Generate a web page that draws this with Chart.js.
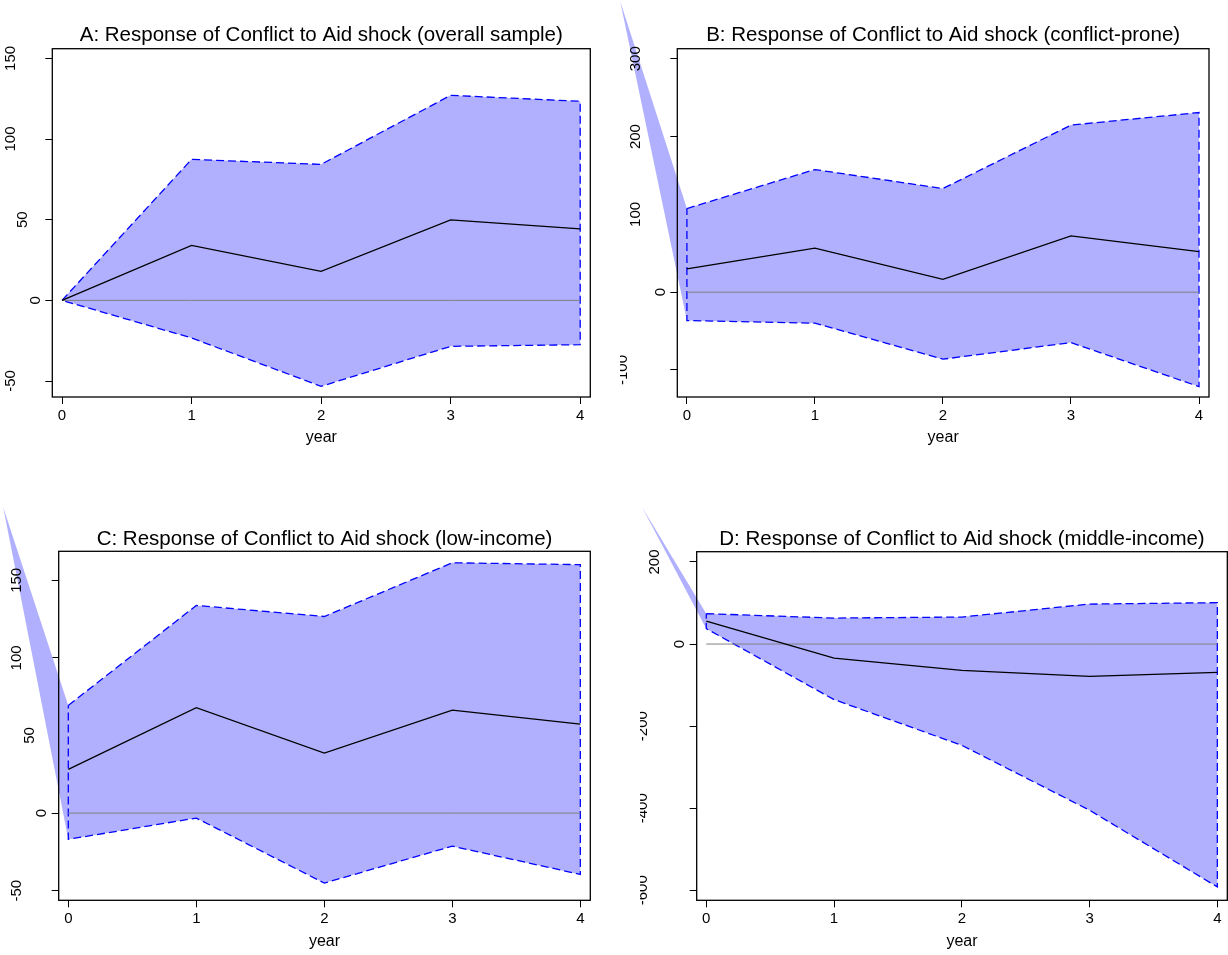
<!DOCTYPE html>
<html>
<head>
<meta charset="utf-8">
<title>Response of Conflict to Aid shock</title>
<script src="https://cdn.jsdelivr.net/npm/chart.js@4.4.1/dist/chart.umd.min.js"></script>
<style>
  html, body { margin: 0; padding: 0; background: #ffffff; }
  #wrap { position: relative; width: 1228px; height: 955px; overflow: hidden; background: #ffffff; }
  #wrap canvas { position: absolute; }
</style>
</head>
<body>
<div id="wrap">
  <canvas id="panelA" width="614" height="477" style="left:0px;top:0px"></canvas>
  <canvas id="panelB" width="614" height="477" style="left:614px;top:0px"></canvas>
  <canvas id="panelC" width="614" height="478" style="left:0px;top:477px"></canvas>
  <canvas id="panelD" width="614" height="478" style="left:614px;top:477px"></canvas>
</div>
<script>
// ---- data -------------------------------------------------------------
const years = [0, 1, 2, 3, 4];
const zeroLine = [0, 0, 0, 0, 0];
const xLabel = 'year';

// A: overall sample
const titleA = 'A: Response of Conflict to Aid shock (overall sample)';
const midA   = [0, 34.1, 18.0, 49.9, 44.3];
const upperA = [0, 87.4, 84.3, 127.1, 123.4];
const lowerA = [0, -23.3, -53.3, -28.5, -27.5];
const yTicksA = [-50, 0, 50, 100, 150];
const yRangeA = [-59.9, 156];
const apexA = null;

// B: conflict-prone
const titleB = 'B: Response of Conflict to Aid shock (conflict-prone)';
const midB   = [30.0, 56.6, 16.5, 72.4, 52.2];
const upperB = [107.5, 157.6, 133.2, 214.7, 230.9];
const lowerB = [-36.5, -39.8, -86.1, -64.8, -121.3];
const yTicksB = [-100, 0, 100, 200, 300];
const yRangeB = [-134.7, 312.9];
const apexB = [-0.521, 374];

// C: low-income
const titleC = 'C: Response of Conflict to Aid shock (low-income)';
const midC   = [28.2, 67.9, 38.7, 66.4, 57.3];
const upperC = [69.4, 133.8, 126.7, 161.3, 160.1];
const lowerC = [-16.9, -3.2, -45.1, -21.3, -39.5];
const yTicksC = [-50, 0, 50, 100, 150];
const yRangeC = [-56.2, 168.7];
const apexC = [-0.508, 197];

// D: middle-income
const titleD = 'D: Response of Conflict to Aid shock (middle-income)';
const midD   = [56, -34.1, -64, -78.7, -68.9];
const upperD = [74, 63.3, 65.8, 97.4, 100.8];
const lowerD = [37.5, -135.4, -246.7, -405, -591.8];
const yTicksD = [-600, -400, -200, 0, 200];
const yRangeD = [-624.4, 225];
const apexD = [-0.503, 334];

const xRange = [-0.075, 4.078];

// ---- styling ----------------------------------------------------------
const FONT = "'Liberation Sans', Arial, Helvetica, sans-serif";
const BAND_FILL = 'rgb(176,176,255)';
const BAND_EDGE = '#0000ff';

// Draws the frame, the rotated y labels and the shaded lead-in of the band.
const framePlugin = {
  id: 'frame',
  beforeDatasetsDraw(chart, args, opts) {
    if (!opts.apex) return;
    const {ctx, scales: {x, y}} = chart;
    ctx.save();
    ctx.beginPath();
    ctx.moveTo(x.getPixelForValue(opts.apex[0]), y.getPixelForValue(opts.apex[1]));
    ctx.lineTo(x.getPixelForValue(years[0]), y.getPixelForValue(opts.upper[0]));
    ctx.lineTo(x.getPixelForValue(years[0]), y.getPixelForValue(opts.lower[0]));
    ctx.closePath();
    ctx.fillStyle = BAND_FILL;
    ctx.fill();
    ctx.restore();
  },
  afterDatasetsDraw(chart) {
    const {ctx, chartArea: a} = chart;
    ctx.save();
    ctx.strokeStyle = '#000';
    ctx.lineWidth = 1.3;
    ctx.strokeRect(a.left, a.top, a.right - a.left, a.bottom - a.top);
    ctx.restore();
  },
  afterDraw(chart, args, opts) {
    const {ctx, chartArea: a, scales: {y}} = chart;
    ctx.save();
    if (opts.labelClip != null) {
      ctx.beginPath();
      ctx.rect(opts.labelClip, 0, chart.width, chart.height);
      ctx.clip();
    }
    ctx.fillStyle = '#000';
    ctx.font = '15px ' + FONT;
    ctx.textAlign = 'center';
    ctx.textBaseline = 'alphabetic';
    opts.ticks.forEach(v => {
      const s = String(v);
      const xr = a.left - 12.5 - (s.length - 1) * 12.5;
      const py = y.getPixelForValue(v);
      ctx.save();
      ctx.translate(xr, py);
      ctx.rotate(-Math.PI / 2);
      ctx.fillText(s, 0, 0);
      ctx.restore();
    });
    ctx.restore();
  }
};

function points(xs, ys) {
  return xs.map((x, i) => ({x: x, y: ys[i]}));
}

function makePanel(id, p) {
  const canvas = document.getElementById(id);
  const W = canvas.width, H = canvas.height;
  const band = points(years, p.upper)
    .concat(points(years, p.lower).reverse())
    .concat([{x: years[0], y: p.upper[0]}]);
  const lh = 20.5 * 1.2;

  return new Chart(canvas, {
    type: 'scatter',
    data: {
      datasets: [
        { data: points(years, p.mid), showLine: true, borderColor: '#000000',
          borderWidth: 1.3, pointRadius: 0, fill: false, tension: 0 },
        { data: points(years, zeroLine), showLine: true, borderColor: '#808080',
          borderWidth: 1, pointRadius: 0, fill: false, tension: 0 },
        { data: band, showLine: true, borderColor: BAND_EDGE, borderWidth: 1.3,
          borderDash: [8, 4], pointRadius: 0, fill: 'shape',
          backgroundColor: BAND_FILL, tension: 0 }
      ]
    },
    options: {
      responsive: false,
      animation: false,
      devicePixelRatio: 1,
      events: [],
      layout: { padding: { left: 0, right: W - p.box.right, top: 0, bottom: 0 } },
      scales: {
        x: {
          type: 'linear', position: 'bottom', min: xRange[0], max: xRange[1],
          afterBuildTicks: s => { s.ticks = years.map(v => ({value: v})); },
          afterFit: s => { s.height = H - p.box.bottom; },
          grid: { drawOnChartArea: false, drawTicks: true, tickLength: 7, color: '#000', lineWidth: 1 },
          border: { display: false },
          ticks: { font: { family: FONT, size: 15 }, color: '#000', padding: 2.5,
                   maxRotation: 0, autoSkip: false, callback: v => String(v) },
          title: { display: true, text: xLabel, color: '#000',
                   font: { family: FONT, size: 16 },
                   padding: { top: 0, bottom: H - p.box.bottom - 50.4 } }
        },
        y: {
          type: 'linear', position: 'left', min: p.yRange[0], max: p.yRange[1],
          afterBuildTicks: s => { s.ticks = p.yTicks.map(v => ({value: v})); },
          afterFit: s => { s.width = p.box.left; },
          grid: { drawOnChartArea: false, drawTicks: true, tickLength: 7, color: '#000', lineWidth: 1 },
          border: { display: false },
          ticks: { display: false }
        }
      },
      plugins: {
        legend: { display: false },
        tooltip: { enabled: false },
        title: {
          display: true, text: p.title, fullSize: false, color: '#000',
          font: { family: FONT, size: 20.5, weight: 'normal', lineHeight: 1.2 },
          padding: { top: p.titleMid - lh / 2, bottom: p.box.top - p.titleMid - lh / 2 }
        },
        frame: { ticks: p.yTicks, apex: p.apex, upper: p.upper, lower: p.lower,
                 labelClip: p.labelClip }
      }
    },
    plugins: [framePlugin]
  });
}

makePanel('panelA', { title: titleA, mid: midA, upper: upperA, lower: lowerA,
  yTicks: yTicksA, yRange: yRangeA, apex: apexA, labelClip: null, titleMid: 35.6,
  box: { left: 52.3, top: 48.7, right: 590.3, bottom: 397 } });
makePanel('panelB', { title: titleB, mid: midB, upper: upperB, lower: lowerB,
  yTicks: yTicksB, yRange: yRangeB, apex: apexB, labelClip: 6, titleMid: 35.6,
  box: { left: 63.3, top: 48.7, right: 595, bottom: 397 } });
makePanel('panelC', { title: titleC, mid: midC, upper: upperC, lower: lowerC,
  yTicks: yTicksC, yRange: yRangeC, apex: apexC, labelClip: null, titleMid: 61.9,
  box: { left: 58.7, top: 74.3, right: 590.3, bottom: 423.3 } });
makePanel('panelD', { title: titleD, mid: midD, upper: upperD, lower: lowerD,
  yTicks: yTicksD, yRange: yRangeD, apex: apexD, labelClip: 26, titleMid: 61.9,
  box: { left: 82.7, top: 74.7, right: 613.3, bottom: 423.3 } });
</script>
</body>
</html>
